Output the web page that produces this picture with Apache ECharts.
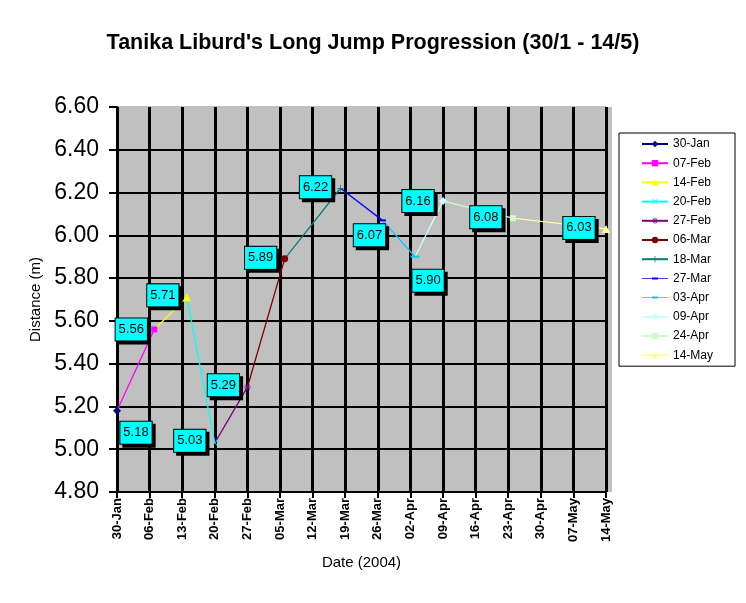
<!DOCTYPE html>
<html>
<head>
<meta charset="utf-8">
<script src="https://cdn.jsdelivr.net/npm/echarts@6/dist/echarts.min.js"></script>
<style>
  html, body { margin: 0; padding: 0; background: #fff; }
  #chart { width: 746px; height: 603px; }
</style>
</head>
<body>
<div id="chart"></div>
<script>
// jumps: name (legend), days after 30-Jan-2004, distance in metres
const jumpNames = ['30-Jan', '07-Feb', '14-Feb', '20-Feb', '27-Feb', '06-Mar',
    '18-Mar', '27-Mar', '03-Apr', '09-Apr', '24-Apr', '14-May'];
const jumpDays = [0, 8, 15, 21, 28, 36, 48, 57, 64, 70, 85, 105];
const distances = [5.18, 5.56, 5.71, 5.03, 5.29, 5.89, 6.22, 6.07, 5.90, 6.16, 6.08, 6.03];

// x axis tick labels, one per week
const dateTicks = ['30-Jan', '06-Feb', '13-Feb', '20-Feb', '27-Feb', '05-Mar', '12-Mar',
    '19-Mar', '26-Mar', '02-Apr', '09-Apr', '16-Apr', '23-Apr', '30-Apr', '07-May', '14-May'];

// excel style colours / markers
const colors = ['#000080', '#FF00FF', '#FFFF00', '#00FFFF', '#800080', '#800000',
    '#008080', '#0000FF', '#00CCFF', '#CCFFFF', '#CCFFCC', '#FFFF99'];
const plusPath = 'path://M0,4H9V5H0Z M4,0H5V9H4Z';
const starPath = 'path://M0,4H9V5H0Z M4,0H5V9H4Z M1,1.7L1.7,1L8,7.3L7.3,8Z M1,7.3L7.3,1L8,1.7L1.7,8Z';
const dashIcon = 'path://M0,3.6H26V4.4H0Z M10,3H16V5H10Z';
const marks = [
    { symbol: 'diamond', size: 8 },
    { symbol: 'rect', size: 6 },
    { symbol: 'triangle', size: 8 },
    { symbol: plusPath, size: 7, rotate: 45 },
    { symbol: starPath, size: 7 },
    { symbol: 'circle', size: 7 },
    { symbol: plusPath, size: 7 },
    { symbol: 'rect', size: [7, 2], icon: dashIcon },
    { symbol: 'rect', size: [9, 2], icon: dashIcon },
    { symbol: 'diamond', size: 8 },
    { symbol: 'rect', size: 6 },
    { symbol: 'triangle', size: 8 }
];
// where each value box sits relative to its point
const labelShift = [[19, 22], [-23, 0], [-24, -2], [-25, -2], [-24, -2], [-24, -1],
    [-25, -1], [-13, 15], [13, 24], [-25, 0], [-27, -1], [-27, -1]];

const font = 'Arial, "Liberation Sans", sans-serif';

// each series draws the segment from the previous jump up to its own jump
const series = jumpNames.map(function (name, i) {
    const data = [];
    if (i > 0) {
        data.push({
            value: [jumpDays[i - 1], distances[i - 1]],
            symbol: 'none',
            label: { show: false }
        });
    }
    data.push({
        value: [jumpDays[i], distances[i]],
        label: { offset: labelShift[i] }
    });
    return {
        name: name,
        type: 'line',
        data: data,
        symbol: marks[i].symbol,
        symbolSize: marks[i].size,
        symbolRotate: marks[i].rotate || 0,
        showAllSymbol: true,
        color: colors[i],
        lineStyle: { color: colors[i], width: 1.3 },
        itemStyle: { color: colors[i] },
        emphasis: { disabled: true },
        z: 3,
        label: {
            show: true,
            position: 'inside',
            formatter: function (p) { return p.value[1].toFixed(2); },
            color: '#000',
            fontFamily: font,
            fontSize: 13,
            backgroundColor: '#00FFFF',
            borderColor: '#000',
            borderWidth: 1,
            padding: [5, 3, 4, 3],
            shadowColor: '#000',
            shadowOffsetX: 3,
            shadowOffsetY: 3,
            shadowBlur: 0
        }
    };
});

const legendData = jumpNames.map(function (name, i) {
    return marks[i].icon ? { name: name, icon: marks[i].icon } : { name: name };
});

const chart = echarts.init(document.getElementById('chart'));

chart.setOption({
    backgroundColor: '#fff',
    animation: false,
    title: {
        text: "Tanika Liburd's Long Jump Progression (30/1 - 14/5)",
        left: 'center',
        top: 27,
        textStyle: { fontFamily: font, fontSize: 21.5, fontWeight: 'bold', color: '#000' }
    },
    grid: {
        left: 117,
        top: 107,
        right: 140,
        bottom: 111,
        show: true,
        backgroundColor: '#C0C0C0',
        borderWidth: 0
    },
    graphic: [{
        // excel's plot area runs a few pixels past the last date
        type: 'rect',
        shape: { x: 606, y: 107, width: 6, height: 385 },
        style: { fill: '#C0C0C0' },
        z: -1
    }],
    legend: {
        orient: 'vertical',
        left: 619,
        top: 133,
        padding: [5, 22, 5, 22],
        itemWidth: 26,
        itemHeight: 8,
        itemGap: 7.2,
        backgroundColor: '#fff',
        borderColor: '#000',
        borderWidth: 1,
        textStyle: { fontFamily: font, fontSize: 12, color: '#000' },
        data: legendData
    },
    xAxis: {
        type: 'value',
        min: 0,
        max: 105,
        interval: 7,
        name: 'Date (2004)',
        nameLocation: 'middle',
        nameGap: 63,
        nameTextStyle: { fontFamily: font, fontSize: 15, color: '#000' },
        axisLine: { show: true, lineStyle: { color: '#000', width: 2 } },
        axisTick: { show: true, length: 6, lineStyle: { color: '#000', width: 2 } },
        axisLabel: {
            rotate: 90,
            margin: 6,
            fontFamily: font,
            fontSize: 13,
            fontWeight: 'bold',
            color: '#000',
            formatter: function (v) { return dateTicks[Math.round(v / 7)]; }
        },
        splitLine: { show: true, lineStyle: { color: '#000', width: 3 } }
    },
    yAxis: {
        type: 'value',
        min: 4.8,
        max: 6.6,
        interval: 0.2,
        name: 'Distance (m)',
        nameLocation: 'middle',
        nameRotate: 90,
        nameGap: 69,
        nameTextStyle: { fontFamily: font, fontSize: 15, color: '#000' },
        axisLine: { show: true, lineStyle: { color: '#000', width: 2 } },
        axisTick: { show: true, length: 8, lineStyle: { color: '#000', width: 2 } },
        axisLabel: {
            margin: 18,
            fontFamily: font,
            fontSize: 23,
            color: '#000',
            formatter: function (v) { return v.toFixed(2); }
        },
        splitLine: {
            show: true,
            lineStyle: {
                color: ['#000', '#000', '#000', '#000', '#000', '#000', '#000', '#000', '#000', '#C0C0C0'],
                width: 2
            }
        }
    },
    series: series
});
</script>
</body>
</html>
